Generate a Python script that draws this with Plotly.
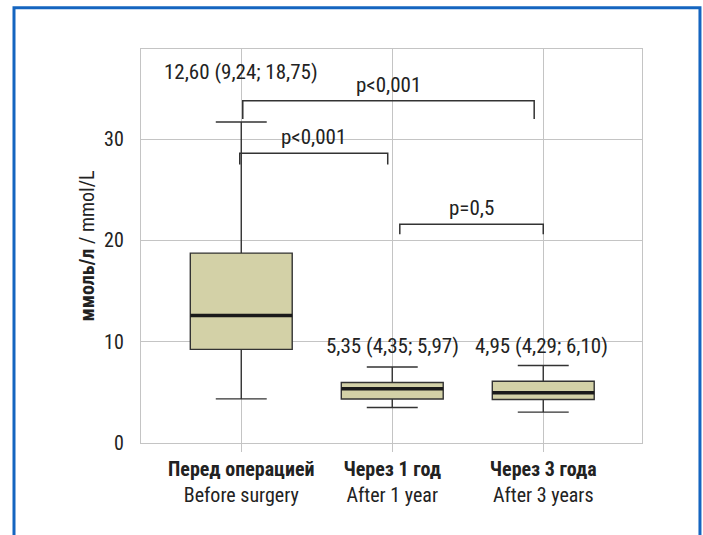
import plotly.graph_objects as go

# Categories (Russian bold line + English line)
cat_ru = ["Перед операцией", "Через 1 год", "Через 3 года"]
cat_en = ["Before surgery", "After 1 year", "After 3 years"]
positions = [0, 1, 2]

# Box statistics, mmol/L
medians = [12.60, 5.35, 4.95]
q1 = [9.24, 4.35, 4.29]
q3 = [18.75, 5.97, 6.10]
whisker_low = [4.36, 3.50, 3.05]
whisker_high = [31.70, 7.50, 7.65]

# Significance brackets: (left x, right x, bar height, leg bottom, label)
bracket_left = [-0.01, 0.01, 1.05]
bracket_right = [0.97, 1.94, 2.00]
bracket_height = [28.6, 33.8, 21.6]
bracket_leg = [27.5, 32.0, 20.6]
bracket_labels = ["p<0,001", "p<0,001", "p=0,5"]

# Positions of the median (IQR) labels
stat_label_y = [36.65, 9.53, 9.53]
stat_label_x = [0, 1, 1.99]

FONT = "Liberation Sans Narrow, Arial Narrow, Roboto Condensed, DejaVu Sans Condensed, sans-serif"
TEXT = "#222222"
BOX_W = 0.675


def fmt(v):
    return f"{v:.2f}".replace(".", ",")


fig = go.Figure()

for i, x in enumerate(positions):
    fig.add_trace(go.Box(
        x=[x], q1=[q1[i]], median=[medians[i]], q3=[q3[i]],
        lowerfence=[whisker_low[i]], upperfence=[whisker_high[i]],
        width=BOX_W, whiskerwidth=0.5,
        fillcolor="#d3d1a7", line=dict(color="#333333", width=1.4),
        boxpoints=False, showlegend=False, hoverinfo="skip",
    ))

# Thick median bars on top of the boxes
mx, my = [], []
for x, m in zip(positions, medians):
    mx += [x - BOX_W / 2, x + BOX_W / 2, None]
    my += [m, m, None]
fig.add_trace(go.Scatter(x=mx, y=my, mode="lines",
                         line=dict(color="#1a1a1a", width=3.5),
                         showlegend=False, hoverinfo="skip"))

# Brackets
bx, by = [], []
for xl, xr, h, leg in zip(bracket_left, bracket_right, bracket_height, bracket_leg):
    bx += [xl, xl, xr, xr, None]
    by += [leg, h, h, leg, None]
fig.add_trace(go.Scatter(x=bx, y=by, mode="lines",
                         line=dict(color="#333333", width=1.5),
                         showlegend=False, hoverinfo="skip"))

for xl, xr, h, lab in zip(bracket_left, bracket_right, bracket_height, bracket_labels):
    fig.add_annotation(x=(xl + xr) / 2, y=h, text=lab, showarrow=False,
                       yanchor="bottom", yshift=2,
                       font=dict(family=FONT, size=21, color=TEXT))

for i in range(3):
    fig.add_annotation(
        x=stat_label_x[i], y=stat_label_y[i],
        text=f"{fmt(medians[i])} ({fmt(q1[i])}; {fmt(q3[i])})",
        showarrow=False, font=dict(family=FONT, size=21, color=TEXT))

ticktext = [f"<b>{r}</b><br>{e}" for r, e in zip(cat_ru, cat_en)]

# Blue frame around the figure
fig.add_shape(type="path", xref="paper", yref="paper",
              path="M -0.2535 -0.3 L -0.2535 1.1045 L 1.1157 1.1045 L 1.1157 -0.3",
              line=dict(color="#1565c0", width=3))

fig.update_layout(
    width=703, height=535,
    margin=dict(l=141, r=61, t=49, b=92),
    paper_bgcolor="white", plot_bgcolor="white",
    font=dict(family=FONT, size=20, color=TEXT),
    xaxis=dict(
        range=[-0.664, 2.654], tickvals=positions, ticktext=ticktext,
        showgrid=True, gridcolor="#c4c4c4", gridwidth=1.3,
        showline=True, linecolor="#c4c4c4", linewidth=1.3, mirror=True,
        ticks="outside", ticklen=8, tickcolor="#c4c4c4", tickwidth=1.3,
        zeroline=False, tickfont=dict(family=FONT, size=20, color=TEXT),
    ),
    yaxis=dict(
        range=[0, 38.9], tickvals=[0, 10, 20, 30],
        showgrid=True, gridcolor="#c4c4c4", gridwidth=1.3,
        showline=True, linecolor="#c4c4c4", linewidth=1.3, mirror=True,
        zeroline=False, ticks="", ticklabelstandoff=12,
        tickfont=dict(family=FONT, size=20, color=TEXT),
        title=dict(text="<b>ммоль/л</b> / mmol/L", standoff=4,
                   font=dict(family=FONT, size=20, color=TEXT)),
    ),
)

fig.write_html("out.html")
